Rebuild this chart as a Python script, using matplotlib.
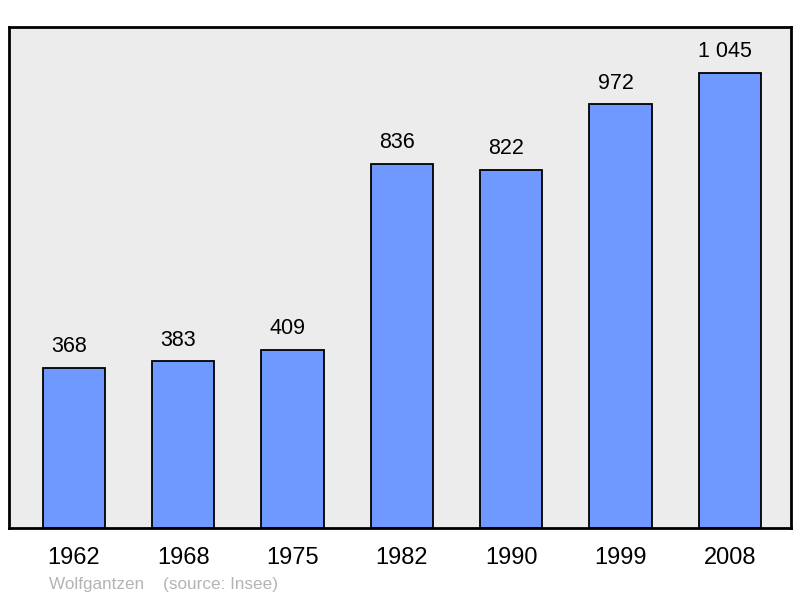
import matplotlib.pyplot as plt

years = ['1962', '1968', '1975', '1982', '1990', '1999', '2008']
population = [368, 383, 409, 836, 822, 972, 1045]
labels = ['368', '383', '409', '836', '822', '972', '1 045']

plt.rcParams['font.family'] = ['Liberation Sans', 'DejaVu Sans']

fig = plt.figure(figsize=(8, 5.98), dpi=100)
ax = fig.add_axes([0.011, 0.117, 0.978, 0.838])
ax.set_facecolor('#ececec')

x = range(len(years))
bars = ax.bar(x, population, width=0.57, color='#7099ff', edgecolor='black', linewidth=1.3)

for xi, v, lab in zip(x, population, labels):
    ax.text(xi - 0.045, v + 24, lab, ha='center', va='bottom', fontsize=15.5)

ax.set_xlim(-0.594, 6.56)
ax.set_ylim(0, 1150)
ax.set_xticks(list(x))
ax.set_xticklabels(years, fontsize=17)
ax.tick_params(axis='x', length=0, pad=14)
ax.set_yticks([])
for s in ax.spines.values():
    s.set_linewidth(2)

fig.text(0.061, 0.015, 'Wolfgantzen    (source: Insee)', color='#b4b4b4', fontsize=12.3)

fig.savefig('out.png', dpi=100)
